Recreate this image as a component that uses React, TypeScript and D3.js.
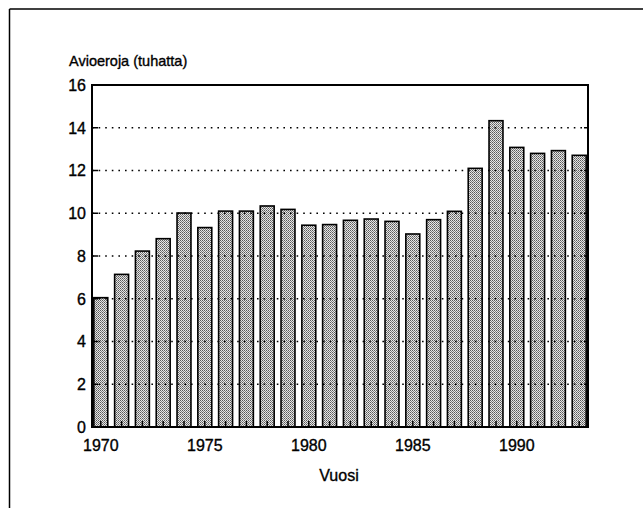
import React from "react";
import * as d3 from "d3";

const years = [1970, 1971, 1972, 1973, 1974, 1975, 1976, 1977, 1978, 1979, 1980, 1981, 1982, 1983, 1984, 1985, 1986, 1987, 1988, 1989, 1990, 1991, 1992, 1993];
const divorces = [6.05, 7.14, 8.23, 8.81, 10.01, 9.33, 10.1, 10.1, 10.34, 10.18, 9.44, 9.47, 9.67, 9.73, 9.62, 9.03, 9.7, 10.09, 12.1, 14.33, 13.08, 12.8, 12.93, 12.71];
const yTicks = [0, 2, 4, 6, 8, 10, 12, 14, 16];
const xTickYears = [1970, 1975, 1980, 1985, 1990];
const yTitle = "Avioeroja (tuhatta)";
const xTitle = "Vuosi";

const W = 643;
const H = 508;
const plot = { left: 92, right: 588, top: 85, bottom: 427 };
const font = "'Liberation Sans', Arial, Helvetica, sans-serif";
const textStroke = { stroke: "#000", strokeWidth: 0.35 };

export default function App() {
  const x = d3
    .scaleBand<number>()
    .domain(years)
    .range([plot.left, plot.right])
    .paddingInner(0.33)
    .paddingOuter(0.088);
  const y = d3.scaleLinear().domain([0, 16]).range([plot.bottom, plot.top]);
  const bw = x.bandwidth();

  return (
    <svg
      width={W}
      height={H}
      style={{ position: "absolute", left: 0, top: 0, background: "#fff" }}
      fontFamily={font}
    >
      <defs>
        <pattern id="stipple" width="2" height="2" patternUnits="userSpaceOnUse">
          <rect width="2" height="2" fill="#e6e6e6" />
          <rect x="0" y="0" width="1" height="1" fill="#5a5a5a" />
          <rect x="1" y="1" width="1" height="1" fill="#808080" />
        </pattern>
      </defs>
      {/* outer frame */}
      <line x1={9.5} y1={9} x2={9.5} y2={H} stroke="#000" strokeWidth={1.5} />
      <line x1={9.5} y1={9} x2={W} y2={9} stroke="#000" strokeWidth={1.5} />

      {/* title */}
      <text x={69} y={66} fontSize={14.5} fill="#000" {...textStroke}>
        {yTitle}
      </text>

      {/* bars */}
      {years.map((yr, i) => (
        <rect
          key={yr}
          x={x(yr)}
          y={y(divorces[i])}
          width={bw}
          height={y(0) - y(divorces[i])}
          fill="url(#stipple)"
          stroke="#000"
          strokeWidth={1.6}
        />
      ))}

      {/* gridlines */}
      {yTicks
        .filter((t) => t > 0 && t < 16)
        .map((t) => (
          <line
            key={"g" + t}
            x1={plot.left}
            x2={plot.right}
            y1={y(t)}
            y2={y(t)}
            stroke="#000"
            strokeWidth={1.6}
            strokeDasharray="1.6 5"
          />
        ))}

      {/* y ticks + labels */}
      {yTicks.map((t) => (
        <g key={"y" + t}>
          <line x1={plot.left} x2={plot.left + 6} y1={y(t)} y2={y(t)} stroke="#000" strokeWidth={1.5} />
          <line x1={plot.right - 4} x2={plot.right} y1={y(t)} y2={y(t)} stroke="#000" strokeWidth={1.5} />
          <text x={plot.left - 6} y={y(t) + 5.8} fontSize={16} textAnchor="end" fill="#000" {...textStroke}>
            {t}
          </text>
        </g>
      ))}

      {/* x ticks */}
      {years.map((yr) => (
        <line
          key={"xt" + yr}
          x1={(x(yr) as number) + bw / 2}
          x2={(x(yr) as number) + bw / 2}
          y1={plot.bottom}
          y2={plot.bottom - 6}
          stroke="#000"
          strokeWidth={1.5}
        />
      ))}
      {xTickYears.map((yr) => (
        <text
          key={"xl" + yr}
          x={(x(yr) as number) + bw / 2}
          y={451}
          fontSize={16}
          textAnchor="middle"
          fill="#000"
          {...textStroke}
        >
          {yr}
        </text>
      ))}

      {/* plot frame */}
      <rect
        x={plot.left}
        y={plot.top}
        width={plot.right - plot.left}
        height={plot.bottom - plot.top}
        fill="none"
        stroke="#000"
        strokeWidth={2}
      />

      <text x={339} y={481} fontSize={16} textAnchor="middle" fill="#000" {...textStroke}>
        {xTitle}
      </text>
    </svg>
  );
}
